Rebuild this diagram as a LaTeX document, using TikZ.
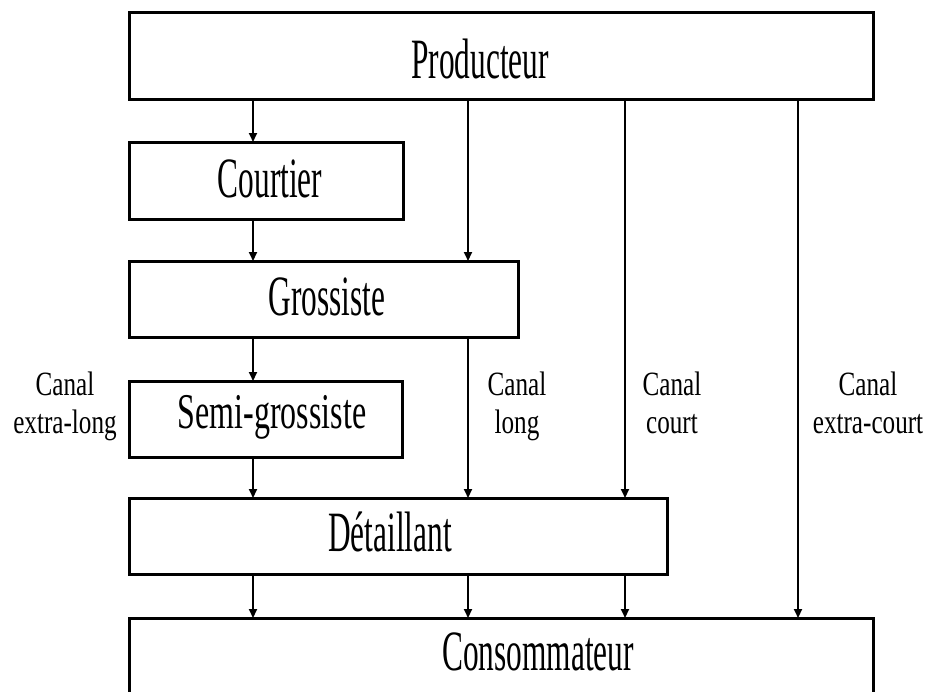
\documentclass[tikz,border=0pt]{standalone}
\usepackage{fontspec}
\setmainfont{Liberation Serif}
\newfontfamily\boxfont[FakeStretch=0.55]{Liberation Serif}
\newfontfamily\semifont[FakeStretch=0.64]{Liberation Serif}
\newfontfamily\chanfont[FakeStretch=0.74]{Liberation Serif}
\usetikzlibrary{arrows.meta}
\begin{document}
\begin{tikzpicture}[x=1pt,y=-1pt,
  boxn/.style={draw=black, line width=3pt, inner sep=0pt, outer sep=0pt, fill=white},
  btext/.style={inner sep=0pt, anchor=base, font=\boxfont\fontsize{57}{60}\selectfont},
  stext/.style={inner sep=0pt, anchor=base, font=\semifont\fontsize{50}{54}\selectfont},
  ctext/.style={inner sep=0pt, anchor=base, align=center, font=\chanfont\fontsize{34}{38}\selectfont},
  conn/.style={line width=2pt, -{Triangle[length=9pt,width=8pt]}}]
\useasboundingbox (0,0) rectangle (928,691);
\fill[white] (0,0) rectangle (928,691);
\clip (0,0) rectangle (928,691);
% boxes
\node[boxn, minimum width=744pt, minimum height=87pt] (prod) at (501,55.5) {};
\node[boxn, minimum width=274pt, minimum height=77pt] (court) at (266,180.5) {};
\node[boxn, minimum width=389pt, minimum height=76pt] (gros) at (323.5,299) {};
\node[boxn, minimum width=273pt, minimum height=76pt] (semi) at (265.5,419) {};
\node[boxn, minimum width=538pt, minimum height=76pt] (det) at (398,536) {};
\node[boxn, minimum width=744pt, minimum height=90pt] (cons) at (501,663) {};
% texts
\node[btext] (tprod) at (480,78) {Producteur};
\node[btext] (tcourt) at (270,197) {Courtier};
\node[btext] (tgros) at (327,315) {Grossiste};
\node[stext] (tsemi) at (272,428) {Semi-grossiste};
\node[btext] (tdet) at (390,551) {Détaillant};
\node[btext] (tcons) at (538,670) {Consommateur};
% channel x positions
\coordinate (xa) at (253,0);
\coordinate (xb) at (468,0);
\coordinate (xc) at (625,0);
\coordinate (xd) at (798,0);
% connectors
\draw[conn] (prod.south -| xa) -- (court.north -| xa);
\draw[conn] (court.south -| xa) -- (gros.north -| xa);
\draw[conn] (gros.south -| xa) -- (semi.north -| xa);
\draw[conn] (semi.south -| xa) -- (det.north -| xa);
\draw[conn] (det.south -| xa) -- (cons.north -| xa);
\draw[conn] (prod.south -| xb) -- (gros.north -| xb);
\draw[conn] (gros.south -| xb) -- (det.north -| xb);
\draw[conn] (det.south -| xb) -- (cons.north -| xb);
\draw[conn] (prod.south -| xc) -- (det.north -| xc);
\draw[conn] (det.south -| xc) -- (cons.north -| xc);
\draw[conn] (prod.south -| xd) -- (cons.north -| xd);
% labels (base = baseline of the last line)
\node[ctext] (lxl) at (65,433) {Canal\\extra-long};
\node[ctext] (ll) at (517,433) {Canal\\long};
\node[ctext] (lc) at (672,433) {Canal\\court};
\node[ctext] (lxc) at (868,433) {Canal\\extra-court};
\end{tikzpicture}
\end{document}
